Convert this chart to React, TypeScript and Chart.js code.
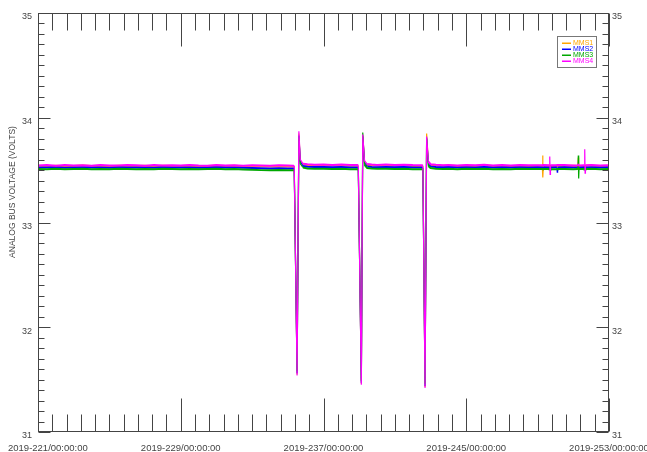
import React, { useEffect, useRef } from "react";
import { Chart, registerables } from "chart.js";

Chart.register(...registerables);

// ---------- data ----------
const days = [
  221, 221.5, 222, 222.5, 223, 223.5, 224, 224.5, 225, 225.5, 226, 226.5, 227, 227.5, 228, 228.5, 229, 229.5, 230, 230.5, 231, 231.5, 232, 232.5, 233, 233.5, 234, 234.5, 235, 235.3,
  235.36, 235.52, 235.62, 235.7, 235.85,
  236.1, 236.5, 237, 237.5, 238, 238.5, 238.9,
  238.95, 239.12, 239.2, 239.3, 239.45,
  239.7, 240, 240.5, 241, 241.5, 242, 242.5,
  242.57, 242.69, 242.78, 242.88, 243.0,
  243.3, 243.7, 244, 244.5, 245, 245.5, 246, 246.5, 247, 247.5, 248, 248.5, 249,
  249.26, 249.28, 249.3, 249.32, 249.66, 249.68, 249.7, 249.72, 250.08, 250.1, 250.12, 250.5, 251,
  251.26, 251.28, 251.3, 251.32, 251.62, 251.64, 251.66, 251.68, 252, 252.5, 253,
];

const mms1 = [
  33.541, 33.538, 33.542, 33.537, 33.540, 33.543, 33.539, 33.541, 33.538, 33.542, 33.540, 33.539, 33.541, 33.538, 33.542, 33.540, 33.539, 33.541, 33.538, 33.540, 33.542, 33.539, 33.541, 33.537, 33.538, 33.536, 33.535, 33.537, 33.535, 33.536,
  33.535, 31.55, 33.85, 33.59, 33.555,
  33.548, 33.545, 33.546, 33.543, 33.545, 33.542, 33.541,
  33.538, 31.46, 33.83, 33.58, 33.55,
  33.546, 33.543, 33.545, 33.541, 33.544, 33.540, 33.539,
  33.537, 31.43, 33.85, 33.57, 33.55,
  33.544, 33.541, 33.543, 33.539, 33.542, 33.540, 33.543, 33.539, 33.541, 33.538, 33.542, 33.540, 33.541,
  33.540, 33.64, 33.43, 33.539, 33.541, 33.540, 33.542, 33.540, 33.541, 33.539, 33.540, 33.539, 33.541,
  33.540, 33.62, 33.50, 33.540, 33.541, 33.539, 33.540, 33.541, 33.542, 33.539, 33.541,
];

const mms2 = [
  33.526, 33.524, 33.527, 33.523, 33.525, 33.528, 33.524, 33.526, 33.523, 33.527, 33.525, 33.524, 33.526, 33.523, 33.527, 33.525, 33.524, 33.526, 33.523, 33.525, 33.527, 33.524, 33.526, 33.523, 33.520, 33.518, 33.516, 33.517, 33.515, 33.516,
  33.515, 31.56, 33.83, 33.58, 33.540,
  33.532, 33.529, 33.530, 33.527, 33.529, 33.526, 33.525,
  33.523, 31.47, 33.82, 33.57, 33.535,
  33.530, 33.528, 33.531, 33.527, 33.529, 33.526, 33.525,
  33.523, 31.44, 33.80, 33.56, 33.535,
  33.530, 33.527, 33.529, 33.525, 33.528, 33.526, 33.529, 33.525, 33.527, 33.524, 33.528, 33.526, 33.527,
  33.525, 33.526, 33.524, 33.527, 33.526, 33.525, 33.527, 33.526, 33.527, 33.48, 33.526, 33.527, 33.525,
  33.526, 33.524, 33.526, 33.525, 33.527, 33.526, 33.524, 33.526, 33.528, 33.525, 33.527,
];

const mms3 = [
  33.511, 33.509, 33.512, 33.508, 33.510, 33.513, 33.509, 33.511, 33.508, 33.512, 33.510, 33.509, 33.511, 33.508, 33.512, 33.510, 33.509, 33.511, 33.508, 33.510, 33.512, 33.509, 33.511, 33.507, 33.503, 33.500, 33.499, 33.501, 33.498, 33.500,
  33.500, 31.58, 33.82, 33.56, 33.525,
  33.515, 33.512, 33.513, 33.510, 33.512, 33.509, 33.508,
  33.507, 31.49, 33.86, 33.55, 33.520,
  33.515, 33.512, 33.514, 33.510, 33.512, 33.509, 33.508,
  33.507, 31.46, 33.81, 33.54, 33.520,
  33.514, 33.511, 33.513, 33.509, 33.512, 33.510, 33.513, 33.509, 33.511, 33.508, 33.512, 33.510, 33.511,
  33.510, 33.509, 33.511, 33.510, 33.511, 33.510, 33.512, 33.510, 33.509, 33.511, 33.510, 33.511, 33.509,
  33.510, 33.64, 33.42, 33.511, 33.510, 33.509, 33.511, 33.510, 33.512, 33.509, 33.511,
];

const mms4 = [
  33.545, 33.548, 33.542, 33.550, 33.544, 33.547, 33.541, 33.549, 33.545, 33.543, 33.548, 33.546, 33.542, 33.549, 33.544, 33.547, 33.543, 33.550, 33.545, 33.542, 33.548, 33.544, 33.546, 33.541, 33.547, 33.544, 33.542, 33.546, 33.543, 33.542,
  33.540, 31.54, 33.87, 33.60, 33.562,
  33.556, 33.552, 33.554, 33.550, 33.553, 33.549, 33.548,
  33.545, 31.45, 33.84, 33.59, 33.558,
  33.553, 33.550, 33.554, 33.549, 33.552, 33.548, 33.547,
  33.544, 31.42, 33.82, 33.58, 33.556,
  33.551, 33.547, 33.550, 33.545, 33.549, 33.546, 33.551, 33.545, 33.548, 33.544, 33.549, 33.546, 33.547,
  33.546, 33.545, 33.547, 33.548, 33.546, 33.63, 33.46, 33.547, 33.549, 33.546, 33.548, 33.549, 33.545,
  33.547, 33.546, 33.548, 33.545, 33.547, 33.70, 33.47, 33.546, 33.548, 33.545, 33.547,
];

const seriesNames = ["MMS1", "MMS2", "MMS3", "MMS4"];
const seriesColors = ["#FFA500", "#0000FF", "#00A800", "#FF00FF"];
const seriesValues = [mms1, mms2, mms3, mms4];

const xMajorDays = [221, 229, 237, 245, 253];
const xTickLabels = [
  "2019-221/00:00:00",
  "2019-229/00:00:00",
  "2019-237/00:00:00",
  "2019-245/00:00:00",
  "2019-253/00:00:00",
];
const yMajorValues = [31, 32, 33, 34, 35];
const yTitle = "ANALOG BUS VOLTAGE (VOLTS)";

const X_MIN = 221, X_MAX = 253, X_MINOR = 0.8;
const Y_MIN = 31, Y_MAX = 35, Y_MINOR = 0.1;

const FONT = "'Liberation Sans', Arial, sans-serif";
const AXIS = "#444";
const TEXT = "#444";

const framePlugin = {
  id: "idlFrame",
  afterDraw(chart: any) {
    const { ctx, chartArea: a, scales } = chart;
    const xs = scales.x, ys = scales.y;
    const L = Math.round(a.left) + 0.5, R = Math.round(a.right) - 0.5;
    const T = Math.round(a.top) + 0.5, B = Math.round(a.bottom) - 0.5;
    ctx.save();
    ctx.strokeStyle = AXIS;
    ctx.lineWidth = 1;
    ctx.strokeRect(L, T, R - L, B - T);

    // x ticks (bottom and top, inward)
    const nx = Math.round((X_MAX - X_MIN) / X_MINOR);
    ctx.beginPath();
    for (let k = 0; k <= nx; k++) {
      const v = X_MIN + k * X_MINOR;
      const px = Math.round(xs.getPixelForValue(v)) + 0.5;
      const len = k % 10 === 0 ? 33 : 17;
      ctx.moveTo(px, B); ctx.lineTo(px, B - len);
      ctx.moveTo(px, T); ctx.lineTo(px, T + len);
    }
    // y ticks (left and right, inward)
    const ny = Math.round((Y_MAX - Y_MIN) / Y_MINOR);
    for (let k = 0; k <= ny; k++) {
      const v = Y_MIN + k * Y_MINOR;
      const py = Math.round(ys.getPixelForValue(v)) + 0.5;
      const len = k % 10 === 0 ? 12 : 6;
      ctx.moveTo(L, py); ctx.lineTo(L + len, py);
      ctx.moveTo(R, py); ctx.lineTo(R - len, py);
    }
    ctx.stroke();

    // x labels
    ctx.fillStyle = TEXT;
    ctx.font = `9.5px ${FONT}`;
    ctx.textBaseline = "middle";
    ctx.textAlign = "center";
    xMajorDays.forEach((d, i) => {
      const px = xs.getPixelForValue(d);
      const w = ctx.measureText(xTickLabels[i]).width;
      const cx = Math.max(px, 8 + w / 2);
      ctx.fillText(xTickLabels[i], cx, a.bottom + 16);
    });

    // y labels
    ctx.font = `9px ${FONT}`;
    yMajorValues.forEach((v) => {
      const py = ys.getPixelForValue(v) + 4;
      ctx.textAlign = "right";
      ctx.fillText(String(v), a.left - 6, py);
      ctx.textAlign = "left";
      ctx.fillText(String(v), a.right + 3, py);
    });

    // y title
    ctx.save();
    ctx.translate(13, 192);
    ctx.rotate(-Math.PI / 2);
    ctx.textAlign = "center";
    ctx.font = `8.5px ${FONT}`;
    ctx.fillText(yTitle, 0, 0);
    ctx.restore();
    ctx.restore();

    // legend
    ctx.save();
    const lx = Math.round(a.right) - 52, ly = 36;
    ctx.strokeStyle = "#777";
    ctx.lineWidth = 1;
    ctx.strokeRect(lx + 0.5, ly + 0.5, 39, 31);
    ctx.font = `7px ${FONT}`;
    ctx.textAlign = "left";
    ctx.textBaseline = "middle";
    seriesNames.forEach((n, i) => {
      const ry = ly + 7 + i * 6;
      ctx.fillStyle = seriesColors[i];
      ctx.fillRect(lx + 5, ry - 0.5, 9, 1.5);
      ctx.fillText(n, lx + 16, ry + 0.5);
    });
    ctx.restore();
  },
};

export default function App() {
  const ref = useRef<HTMLCanvasElement>(null);
  useEffect(() => {
    document.body.style.margin = "0";
    const canvas = ref.current!;
    const chart = new Chart(canvas, {
      type: "line",
      data: {
        datasets: seriesValues.map((vals, i) => ({
          label: seriesNames[i],
          data: days.map((d, j) => ({ x: d, y: vals[j] })),
          borderColor: seriesColors[i],
          backgroundColor: seriesColors[i],
          borderWidth: 2,
          pointRadius: 0,
          tension: 0,
          order: 3 - i,
          segment: {
            borderWidth: (c: any) => (Math.abs(c.p1.parsed.y - c.p0.parsed.y) > 0.03 ? 1.2 : 2),
          },
        })),
      },
      options: {
        responsive: false,
        animation: false,
        devicePixelRatio: 1,
        layout: { padding: { left: 38, right: 38, top: 13, bottom: 20 } },
        scales: {
          x: { type: "linear", min: X_MIN, max: X_MAX, display: false },
          y: { type: "linear", min: Y_MIN, max: Y_MAX, display: false },
        },
        plugins: { legend: { display: false }, tooltip: { enabled: false } },
      },
      plugins: [framePlugin],
    });
    return () => chart.destroy();
  }, []);
  return (
    <div style={{ position: "fixed", left: 0, top: 0, width: 647, height: 452, background: "#fff" }}>
      <canvas ref={ref} width={647} height={452} style={{ width: 647, height: 452 }} />
    </div>
  );
}
